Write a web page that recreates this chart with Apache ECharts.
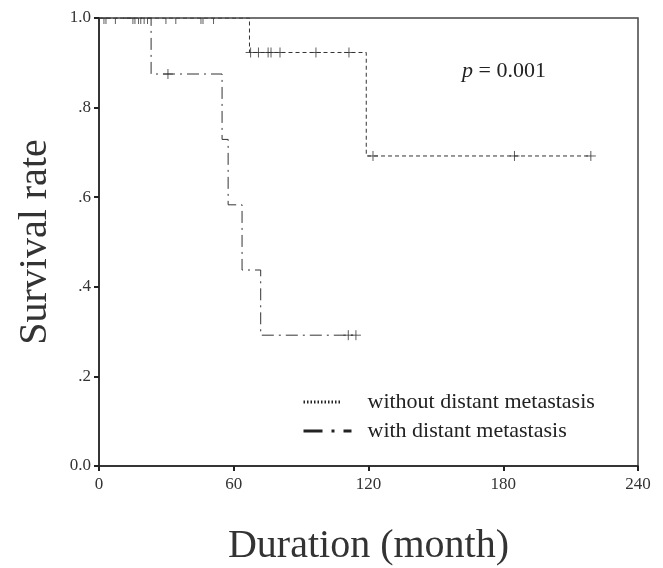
<!DOCTYPE html>
<html>
<head>
<meta charset="utf-8">
<script src="https://cdn.jsdelivr.net/npm/echarts@6/dist/echarts.min.js"></script>
<style>
  html, body { margin: 0; padding: 0; background: #fff; }
  #chart { width: 663px; height: 568px; }
</style>
</head>
<body>
<div id="chart"></div>
<script>
// Kaplan-Meier steps (month, survival)
const withoutTimes = [0, 67, 119, 219];
const withoutSurv = [1, 0.923, 0.692, 0.692];
const withTimes = [0, 23.2, 54.8, 57.5, 63.7, 72, 114.4];
const withSurv = [1, 0.875, 0.729, 0.583, 0.4375, 0.292, 0.292];

// censored cases
const withoutCensorTimes = [67.5, 71, 75.3, 76.6, 80.6, 96.6, 111.3, 122, 185, 219];
const withoutCensorSurv = [0.923, 0.923, 0.923, 0.923, 0.923, 0.923, 0.923, 0.692, 0.692, 0.692];
const withCensorTimes = [30.7, 111, 114.4];
const withCensorSurv = [0.875, 0.292, 0.292];
const topCensorTimes = [2.2, 3.1, 7.3, 15.1, 16.0, 17.6, 18.6, 20.1, 21.6, 29.8, 34.2, 45.4, 46.3, 51.0];

const yTickLabels = ['0.0', '.2', '.4', '.6', '.8', '1.0'];
const seriesNames = ['without distant metastasis', 'with distant metastasis'];

const zip = (xs, ys) => xs.map((x, i) => [x, ys[i]]);
const serif = '"Liberation Serif", "DejaVu Serif", serif';
const ink = '#333';
const plusPath = 'path://M0,5L10,5M5,0L5,10';

var chartDom = document.getElementById('chart');
var myChart = echarts.init(chartDom);
const option = {
    backgroundColor: '#fff',
    animation: false,
    grid: {
        left: 99, right: 25, top: 18, bottom: 102,
        outerBoundsMode: 'none', containLabel: false,
        show: true, borderColor: '#444', borderWidth: 1.5
    },
    xAxis: {
        type: 'value', min: 0, max: 240, interval: 60,
        name: 'Duration (month)', nameLocation: 'middle', nameGap: 60,
        nameTextStyle: { fontFamily: serif, fontSize: 40, color: '#333' },
        axisLine: { lineStyle: { color: '#222', width: 1.5 } },
        axisTick: { length: 5, lineStyle: { color: '#222', width: 2 } },
        axisLabel: { fontFamily: serif, fontSize: 17, color: '#333', margin: 10 },
        splitLine: { show: false }
    },
    yAxis: {
        type: 'value', min: 0, max: 1, interval: 0.2,
        name: 'Survival rate', nameLocation: 'middle', nameGap: 44,
        nameTextStyle: { fontFamily: serif, fontSize: 40, color: '#333' },
        axisLine: { lineStyle: { color: '#222', width: 1.5 } },
        axisTick: { length: 5, lineStyle: { color: '#222', width: 2 } },
        axisLabel: {
            fontFamily: serif, fontSize: 17, color: '#333', margin: 8,
            formatter: (v) => yTickLabels[Math.round(v * 5)]
        },
        splitLine: { show: false }
    },
    legend: {
        orient: 'vertical', left: 297, top: 386, itemGap: 7,
        itemWidth: 51, itemHeight: 14,
        textStyle: { fontFamily: serif, fontSize: 22, color: '#222', padding: [0, 0, 0, 8] },
        itemStyle: { color: 'rgba(0,0,0,0)', borderWidth: 0 },
        data: [
            { name: seriesNames[0], lineStyle: { width: 3, color: '#222', type: [1.5, 2, 1.5, 2, 1.5, 2, 1.5, 2, 1.5, 2, 1.5, 2, 1.5, 2, 1.5, 2, 1.5, 2, 1.5, 2, 1.5, 100] } },
            { name: seriesNames[1], lineStyle: { width: 3, color: '#222', type: [19, 9, 3, 9, 8, 100] } }
        ]
    },
    graphic: [{
        type: 'text', left: 462, top: 60,
        style: {
            text: '{i|p} = 0.001',
            font: '22px ' + serif, fill: '#222',
            rich: { i: { fontStyle: 'italic', fontFamily: serif, fontSize: 22 } }
        }
    }],
    series: [
        {
            name: seriesNames[0], type: 'line', step: 'end', symbol: 'none',
            data: zip(withoutTimes, withoutSurv),
            lineStyle: { color: ink, width: 1, type: [4, 3] }, z: 3
        },
        {
            name: seriesNames[1], type: 'line', step: 'end', symbol: 'none',
            data: zip(withTimes, withSurv),
            lineStyle: { color: ink, width: 1, type: [12, 5, 2, 5] }, z: 3
        },
        {
            type: 'scatter', symbol: plusPath, symbolSize: 10,
            data: zip(withoutCensorTimes, withoutCensorSurv).concat(zip(withCensorTimes, withCensorSurv)),
            itemStyle: { color: 'rgba(0,0,0,0)', borderColor: ink, borderWidth: 1 }, z: 4
        },
        {
            type: 'scatter', symbol: 'rect', symbolSize: [1, 6], symbolOffset: [0, 3],
            data: topCensorTimes.map(t => [t, 1]),
            itemStyle: { color: ink }, z: 4
        }
    ]
};
myChart.setOption(option);
</script>
</body>
</html>
